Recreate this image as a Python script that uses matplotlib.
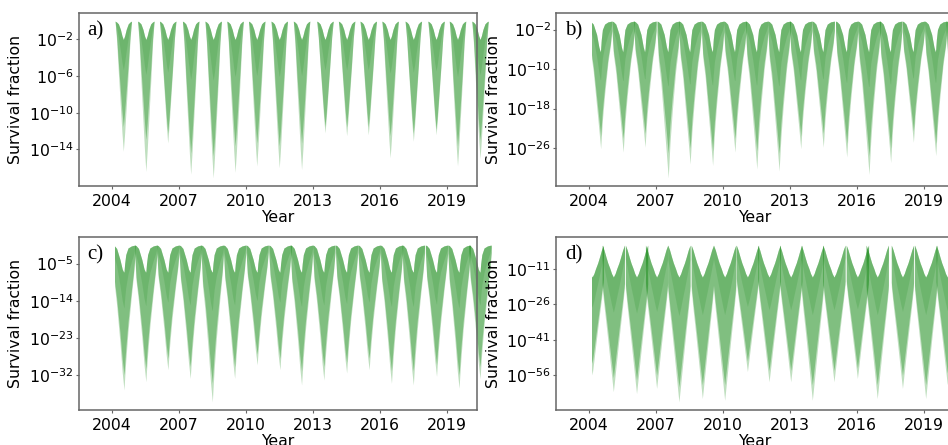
import numpy as np
import matplotlib
matplotlib.use("Agg")
import matplotlib.pyplot as plt

GREEN = "#1a8c1a"

# ---- data (log10 of survival fraction) ----
# panel a: summer dips, band collapses to 1 in winter
a_trough = [2004.51, 2005.52, 2006.50, 2007.53, 2008.54, 2009.52, 2010.49, 2011.50,
            2012.50, 2013.55, 2014.52, 2015.49, 2016.47, 2017.51, 2018.53, 2019.49, 2020.50]
a_tip = [-14.2, -16.4, -13.3, -16.7, -17.1, -16.5, -15.8, -16.0,
         -16.2, -12.2, -12.5, -12.4, -14.9, -13.1, -12.4, -15.8, -15.0]
a_solid = [-11.5, -12.9, -12.2, -14.4, -14.7, -13.6, -13.3, -13.6,
           -13.3, -11.5, -11.5, -11.5, -12.5, -12.2, -11.8, -13.6, -13.0]
# shape of one dip: offset in years, fraction of depth, upper edge
a_dt = [-0.37, -0.30, -0.22, -0.13, -0.06, 0.0, 0.06, 0.13, 0.22, 0.30, 0.37]
a_frac = [0.0, 0.15, 0.40, 0.66, 0.86, 1.0, 0.86, 0.66, 0.40, 0.15, 0.0]
a_up = [0.0, -0.1, -0.3, -0.9, -1.6, -2.0, -1.6, -0.9, -0.3, -0.1, 0.0]

# panel b
b_trough = [2004.51, 2005.52, 2006.50, 2007.54, 2008.52, 2009.53, 2010.53, 2011.51,
            2012.51, 2013.48, 2014.49, 2015.54, 2016.54, 2017.51, 2018.53, 2019.53, 2020.50]
b_tip = [-26.1, -26.8, -25.8, -32.0, -29.2, -29.5, -26.8, -30.2,
         -30.6, -26.1, -25.8, -27.8, -31.3, -28.9, -24.8, -27.5, -27.0]
b_solid = [-23.5, -24.0, -23.0, -27.0, -26.0, -26.5, -24.0, -26.5,
           -27.0, -23.5, -23.0, -25.0, -27.5, -26.0, -22.5, -25.0, -24.0]
b_dt = [-0.5, -0.44, -0.33, -0.18, -0.08, -0.02, 0.0, 0.03, 0.08, 0.18, 0.33, 0.44, 0.5]
b_frac = [0.09, 0.26, 0.40, 0.67, 0.85, 0.96, 1.0, 0.92, 0.78, 0.58, 0.33, 0.20, 0.09]
b_up = [-0.3, -0.4, -0.9, -3.0, -5.5, -6.5, -6.0, -4.0, -2.0, -0.9, -0.45, -0.35, -0.3]

# panel c
c_trough = [2004.54, 2005.52, 2006.51, 2007.51, 2008.50, 2009.50, 2010.51, 2011.53,
            2012.50, 2013.50, 2014.52, 2015.53, 2016.53, 2017.51, 2018.55, 2019.56, 2020.50]
c_tip = [-35.7, -33.7, -30.8, -32.9, -38.6, -32.9, -29.6, -30.8,
         -34.5, -33.3, -31.6, -30.8, -34.1, -34.5, -32.4, -35.3, -33.0]
c_solid = [-32.0, -30.5, -28.0, -30.0, -34.0, -30.0, -27.0, -28.0,
           -31.0, -30.0, -29.0, -28.0, -31.0, -31.0, -29.5, -32.0, -30.0]
c_dt = [-0.5, -0.44, -0.33, -0.18, -0.08, -0.02, 0.0, 0.03, 0.08, 0.18, 0.33, 0.44, 0.5]
c_frac = [0.075, 0.27, 0.42, 0.68, 0.88, 0.97, 1.0, 0.92, 0.80, 0.60, 0.36, 0.20, 0.075]
c_up = [-0.5, -0.6, -1.3, -4.0, -6.3, -7.0, -7.0, -5.0, -2.8, -1.2, -0.7, -0.55, -0.5]

# panel d: winter dips
d_trough = [2004.13, 2005.08, 2006.12, 2007.02, 2008.02, 2009.07, 2010.07, 2011.09,
            2012.06, 2013.03, 2014.00, 2014.97, 2016.02, 2016.91, 2018.04, 2019.08, 2020.05]
d_tip = [-55.9, -63.0, -63.8, -61.6, -67.3, -65.9, -66.6, -54.5,
         -58.8, -58.8, -66.6, -58.8, -57.4, -65.9, -61.6, -65.9, -60.0]
d_solid = [-51.0, -57.0, -58.0, -56.0, -61.0, -60.0, -60.0, -50.0,
           -54.0, -54.0, -60.0, -54.0, -53.0, -60.0, -56.0, -60.0, -55.0]
d_dt = [-0.5, -0.42, -0.33, -0.25, -0.15, -0.08, 0.0, 0.08, 0.15, 0.25, 0.33, 0.42, 0.5]
d_frac = [0.30, 0.42, 0.54, 0.65, 0.79, 0.89, 1.0, 0.89, 0.79, 0.65, 0.54, 0.42, 0.30]
d_up = [-1.0, -3.0, -6.0, -8.5, -11.0, -13.0, -14.5, -13.0, -11.0, -8.5, -6.0, -3.0, -1.0]

t_start = 2004.12
years = [2004, 2007, 2010, 2013, 2016, 2019]

panels = [
    ("a)", a_trough, a_tip, a_solid, a_dt, a_frac, a_up, [-2, -6, -10, -14]),
    ("b)", b_trough, b_tip, b_solid, b_dt, b_frac, b_up, [-2, -10, -18, -26]),
    ("c)", c_trough, c_tip, c_solid, c_dt, c_frac, c_up, [-5, -14, -23, -32]),
    ("d)", d_trough, d_tip, d_solid, d_dt, d_frac, d_up, [-11, -26, -41, -56]),
]

W, H = 948, 445
fig = plt.figure(figsize=(W / 100, H / 100), dpi=100)
ax_w, ax_h = 398 / W, 172.4 / H
lefts = [78.7 / W, 556 / W]
bottoms = [(H - 185.7) / H, (H - 409.7) / H]

for i, (lab, tr, tip, sol, dt, frac, up, yt) in enumerate(panels):
    ax = fig.add_axes([lefts[i % 2], bottoms[i // 2], ax_w, ax_h])
    ax.set_yscale("log")
    clip = plt.Rectangle((t_start, 1e-300), 100, 1e300, transform=ax.transData)
    for c, d, s in zip(tr, tip, sol):
        t = c + np.array(dt)
        f = np.array(frac)
        u = np.array(up)
        lo_out = d * f
        lo_in = np.minimum(s * f, u)
        core = u + 0.35 * (lo_in - u)
        p1 = ax.fill_between(t, 10.0 ** lo_out, 10.0 ** u, color=GREEN, alpha=0.28, lw=0)
        p2 = ax.fill_between(t, 10.0 ** lo_in, 10.0 ** u, color=GREEN, alpha=0.38, lw=0)
        p3 = ax.fill_between(t, 10.0 ** core, 10.0 ** u, color=GREEN, alpha=0.18, lw=0)
        for art in (p1, p2, p3):
            art.set_clip_path(clip)
    ax.set_xlim(2002.51, 2020.35)
    ax.set_xticks(years)
    ax.set_yticks([10.0 ** v for v in yt])
    ax.minorticks_off()
    ax.tick_params(axis="both", labelsize=11.3, length=2.2, width=0.8, color="#666666")
    ax.tick_params(axis="y", pad=1.5)
    for sp in ax.spines.values():
        sp.set_color("#666666")
        sp.set_linewidth(1.1)
    ax.set_ylabel("Survival fraction", fontsize=11.3)
    ax.set_xlabel("Year", fontsize=11.3, labelpad=1)
    ax.text(0.022, 0.955, lab, transform=ax.transAxes, va="top", ha="left",
            fontsize=15, family="Liberation Serif")

fig.savefig("out.png", dpi=100)
